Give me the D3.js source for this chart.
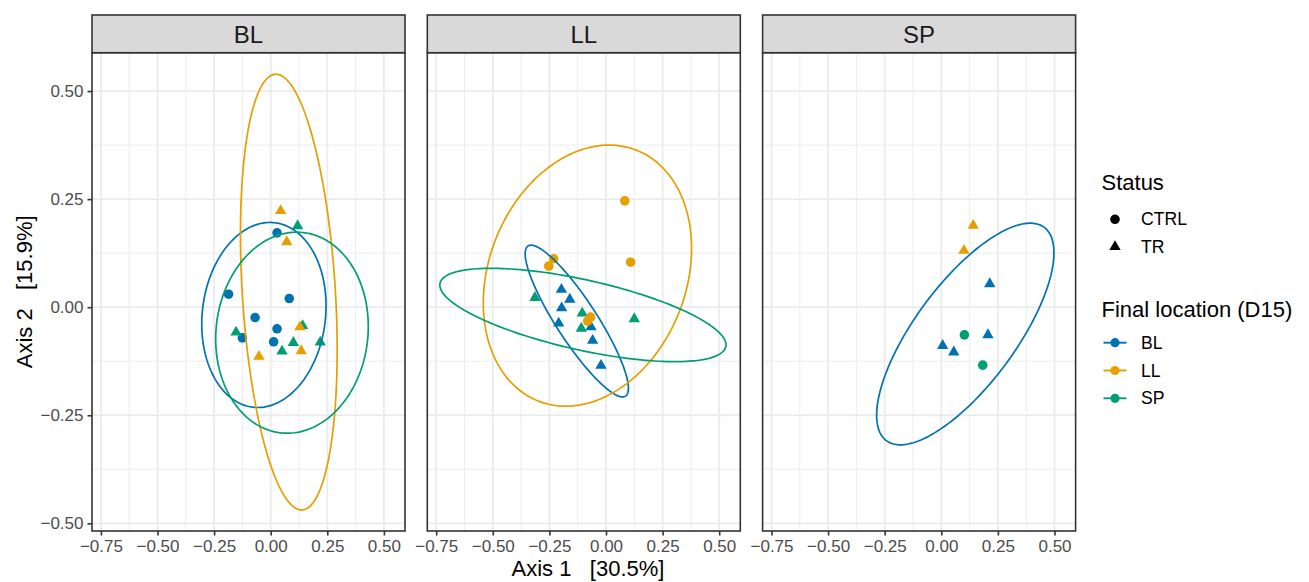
<!DOCTYPE html>
<html>
<head>
<meta charset="utf-8">
<script src="https://cdn.jsdelivr.net/npm/d3@7"></script>
<style>
  body { margin: 0; background: #fff; }
  text { font-family: "Liberation Sans", Arial, sans-serif; }
</style>
</head>
<body>
<div id="chart"></div>
<script>
// Data
// ================================
var panels = ["BL", "LL", "SP"];
var locations = ["BL", "LL", "SP"];
var locationColors = ["#0072B2", "#E69F00", "#009E73"];
var statuses = ["CTRL", "TR"];

var xTicks = [-0.75, -0.5, -0.25, 0, 0.25, 0.5];
var yTicks = [-0.5, -0.25, 0, 0.25, 0.5];

// points: [axis1, axis2, final location, status]
var pointsBL = [
  [0.028, 0.172, "BL", "CTRL"],
  [-0.186, 0.030, "BL", "CTRL"],
  [0.082, 0.020, "BL", "CTRL"],
  [-0.069, -0.024, "BL", "CTRL"],
  [0.028, -0.050, "BL", "CTRL"],
  [-0.125, -0.071, "BL", "CTRL"],
  [0.013, -0.080, "BL", "CTRL"],
  [0.119, 0.188, "SP", "TR"],
  [-0.153, -0.058, "SP", "TR"],
  [0.141, -0.043, "SP", "TR"],
  [0.100, -0.082, "SP", "TR"],
  [0.050, -0.102, "SP", "TR"],
  [0.219, -0.081, "SP", "TR"],
  [0.044, 0.223, "LL", "TR"],
  [0.071, 0.151, "LL", "TR"],
  [0.129, -0.046, "LL", "TR"],
  [-0.052, -0.114, "LL", "TR"],
  [0.135, -0.101, "LL", "TR"],
];

var pointsLL = [
  [-0.314, 0.022, "SP", "TR"],
  [-0.105, -0.014, "SP", "TR"],
  [-0.109, -0.049, "SP", "TR"],
  [0.125, -0.027, "SP", "TR"],
  [-0.197, 0.041, "BL", "TR"],
  [-0.160, 0.018, "BL", "TR"],
  [-0.196, -0.002, "BL", "TR"],
  [-0.209, -0.037, "BL", "TR"],
  [-0.066, -0.046, "BL", "TR"],
  [-0.059, -0.077, "BL", "TR"],
  [-0.022, -0.135, "BL", "TR"],
  [0.083, 0.246, "LL", "CTRL"],
  [0.109, 0.104, "LL", "CTRL"],
  [-0.231, 0.112, "LL", "CTRL"],
  [-0.253, 0.095, "LL", "CTRL"],
  [-0.068, -0.023, "LL", "CTRL"],
  [-0.081, -0.032, "LL", "CTRL"],
];

var pointsSP = [
  [0.102, -0.064, "SP", "CTRL"],
  [0.183, -0.134, "SP", "CTRL"],
  [0.214, 0.054, "BL", "TR"],
  [0.206, -0.064, "BL", "TR"],
  [0.006, -0.089, "BL", "TR"],
  [0.055, -0.104, "BL", "TR"],
  [0.141, 0.189, "LL", "TR"],
  [0.100, 0.131, "LL", "TR"],
];

// ellipses: [location, centre x, centre y, half width, half height, x shift of top point]
var ellipsesBL = [
  ["BL", -0.030, -0.018, 0.2745, 0.214, 0.027],
  ["LL", 0.080, 0.035, 0.2136, 0.504, -0.0565],
  ["SP", 0.094, -0.059, 0.337, 0.2325, 0.021],
];
var ellipsesLL = [
  ["BL", -0.129, -0.032, 0.228, 0.1755, -0.202],
  ["LL", -0.082, 0.073, 0.460, 0.302, 0.096],
  ["SP", -0.102, -0.018, 0.632, 0.108, -0.405],
];
var ellipsesSP = [
  ["BL", 0.106, -0.062, 0.3916, 0.2564, 0.287],
];

var panelPoints = [pointsBL, pointsLL, pointsSP];
var panelEllipses = [ellipsesBL, ellipsesLL, ellipsesSP];

// Set up our chart
// ================================
var svgWidth = 1309;
var svgHeight = 582;

var panelLeft = 92;
var panelTop = 52.7;
var panelWidth = 313;
var panelHeight = 478.3;
var panelStep = 335.3;
var stripHeight = 37.7;

var svg = d3
  .select("#chart")
  .append("svg")
  .attr("width", svgWidth)
  .attr("height", svgHeight)
  .style("background", "#fff");

var xScale = d3.scaleLinear().domain([-0.7893, 0.5932]).range([0, panelWidth]);
var yScale = d3.scaleLinear().domain([-0.5177, 0.5887]).range([panelHeight, 0]);

var colorScale = d3.scaleOrdinal().domain(locations).range(locationColors);
var shapeScale = d3
  .scaleOrdinal()
  .domain(statuses)
  .range([d3.symbolCircle, d3.symbolTriangle]);
var sizeScale = d3.scaleOrdinal().domain(statuses).range([72, 56]);

var tickFormat = d3.format(".2f");

// minor grid sits halfway between major ticks
function minors(ticks) {
  var out = [];
  for (var i = 0; i < ticks.length - 1; i++) {
    out.push((ticks[i] + ticks[i + 1]) / 2);
  }
  return out;
}
var xMinor = minors(xTicks);
var yMinor = minors(yTicks);

var ellipseLine = d3
  .line()
  .x((d) => xScale(d[0]))
  .y((d) => yScale(d[1]))
  .curve(d3.curveLinearClosed);

function ellipsePoints(e) {
  var cx = e[1], cy = e[2], rx = e[3], ry = e[4], topdx = e[5];
  var dy = (topdx * ry) / rx;
  var ey = Math.sqrt(Math.max(ry * ry - dy * dy, 0));
  return d3.range(0, 2 * Math.PI, Math.PI / 90).map(function (t) {
    return [cx + rx * Math.cos(t), cy + dy * Math.cos(t) + ey * Math.sin(t)];
  });
}

panels.forEach(function (name, i) {
  var g = svg
    .append("g")
    .attr("transform", `translate(${panelLeft + i * panelStep}, ${panelTop})`);

  // gridlines
  g.selectAll(".xminor")
    .data(xMinor)
    .enter()
    .append("line")
    .attr("x1", (d) => xScale(d))
    .attr("x2", (d) => xScale(d))
    .attr("y1", 0)
    .attr("y2", panelHeight)
    .attr("stroke", "#EBEBEB")
    .attr("stroke-width", 0.9);

  g.selectAll(".yminor")
    .data(yMinor)
    .enter()
    .append("line")
    .attr("x1", 0)
    .attr("x2", panelWidth)
    .attr("y1", (d) => yScale(d))
    .attr("y2", (d) => yScale(d))
    .attr("stroke", "#EBEBEB")
    .attr("stroke-width", 0.9);

  g.selectAll(".xmajor")
    .data(xTicks)
    .enter()
    .append("line")
    .attr("x1", (d) => xScale(d))
    .attr("x2", (d) => xScale(d))
    .attr("y1", 0)
    .attr("y2", panelHeight)
    .attr("stroke", "#EBEBEB")
    .attr("stroke-width", 1.8);

  g.selectAll(".ymajor")
    .data(yTicks)
    .enter()
    .append("line")
    .attr("x1", 0)
    .attr("x2", panelWidth)
    .attr("y1", (d) => yScale(d))
    .attr("y2", (d) => yScale(d))
    .attr("stroke", "#EBEBEB")
    .attr("stroke-width", 1.8);

  // points
  g.selectAll(".pt")
    .data(panelPoints[i])
    .enter()
    .append("path")
    .attr("transform", (d) => `translate(${xScale(d[0])}, ${yScale(d[1])})`)
    .attr("d", (d) => d3.symbol().type(shapeScale(d[3])).size(sizeScale(d[3]))())
    .attr("fill", (d) => colorScale(d[2]));

  // ellipses
  g.selectAll(".ell")
    .data(panelEllipses[i])
    .enter()
    .append("path")
    .attr("d", (d) => ellipseLine(ellipsePoints(d)))
    .attr("fill", "none")
    .attr("stroke", (d) => colorScale(d[0]))
    .attr("stroke-width", 1.7);

  // panel border
  g.append("rect")
    .attr("width", panelWidth)
    .attr("height", panelHeight)
    .attr("fill", "none")
    .attr("stroke", "#333333")
    .attr("stroke-width", 1.6);

  // strip
  g.append("rect")
    .attr("y", -stripHeight)
    .attr("width", panelWidth)
    .attr("height", stripHeight)
    .attr("fill", "#D9D9D9")
    .attr("stroke", "#333333")
    .attr("stroke-width", 1.6);

  g.append("text")
    .attr("x", panelWidth / 2)
    .attr("y", -9.4)
    .attr("text-anchor", "middle")
    .attr("font-size", 24)
    .attr("fill", "#1A1A1A")
    .text(name);

  // x axis
  var xAxis = g
    .append("g")
    .attr("transform", `translate(0, ${panelHeight})`)
    .call(d3.axisBottom(xScale).tickValues(xTicks).tickFormat(tickFormat).tickSize(4.5).tickPadding(4));
  xAxis.select(".domain").remove();
  xAxis.selectAll(".tick line").attr("stroke", "#333333").attr("stroke-width", 1.6);
  xAxis
    .selectAll(".tick text")
    .attr("font-size", 17)
    .attr("fill", "#4D4D4D")
    .attr("font-family", "Liberation Sans, Arial, sans-serif");

  // y axis only on the first panel
  if (i === 0) {
    var yAxis = g
      .append("g")
      .call(d3.axisLeft(yScale).tickValues(yTicks).tickFormat(tickFormat).tickSize(4.5).tickPadding(4));
    yAxis.select(".domain").remove();
    yAxis.selectAll(".tick line").attr("stroke", "#333333").attr("stroke-width", 1.6);
    yAxis
      .selectAll(".tick text")
      .attr("font-size", 17)
      .attr("fill", "#4D4D4D")
      .attr("font-family", "Liberation Sans, Arial, sans-serif");
  }
});

// axis titles
svg
  .append("text")
  .attr("x", 588)
  .attr("y", 575.5)
  .attr("text-anchor", "middle")
  .attr("font-size", 22)
  .attr("fill", "#000")
  .style("white-space", "pre")
  .text("Axis 1   [30.5%]");

svg
  .append("text")
  .attr("transform", `translate(32, ${panelTop + panelHeight / 2}) rotate(-90)`)
  .attr("text-anchor", "middle")
  .attr("font-size", 22)
  .attr("fill", "#000")
  .style("white-space", "pre")
  .text("Axis 2   [15.9%]");

// legends
// ================================
var legend = svg.append("g");

legend
  .append("text")
  .attr("x", 1101.5)
  .attr("y", 190)
  .attr("font-size", 22)
  .attr("fill", "#000")
  .text("Status");

var statusRows = legend
  .selectAll(".status")
  .data(statuses)
  .enter()
  .append("g")
  .attr("transform", (d, i) => `translate(1115, ${219.3 + i * 27.5})`);

statusRows
  .append("path")
  .attr("d", (d) => d3.symbol().type(shapeScale(d)).size(sizeScale(d))())
  .attr("fill", "#000");

statusRows
  .append("text")
  .attr("x", 26)
  .attr("y", 6)
  .attr("font-size", 17.6)
  .attr("fill", "#000")
  .text((d) => d);

legend
  .append("text")
  .attr("x", 1101.5)
  .attr("y", 316.7)
  .attr("font-size", 22)
  .attr("fill", "#000")
  .text("Final location (D15)");

var locRows = legend
  .selectAll(".loc")
  .data(locations)
  .enter()
  .append("g")
  .attr("transform", (d, i) => `translate(1115, ${342.7 + i * 27.8})`);

locRows
  .append("line")
  .attr("x1", -11.5)
  .attr("x2", 11.5)
  .attr("stroke", (d) => colorScale(d))
  .attr("stroke-width", 1.9);

locRows
  .append("path")
  .attr("d", d3.symbol().type(d3.symbolCircle).size(66)())
  .attr("fill", (d) => colorScale(d));

locRows
  .append("text")
  .attr("x", 26)
  .attr("y", 6)
  .attr("font-size", 17.6)
  .attr("fill", "#000")
  .text((d) => d);
</script>
</body>
</html>
